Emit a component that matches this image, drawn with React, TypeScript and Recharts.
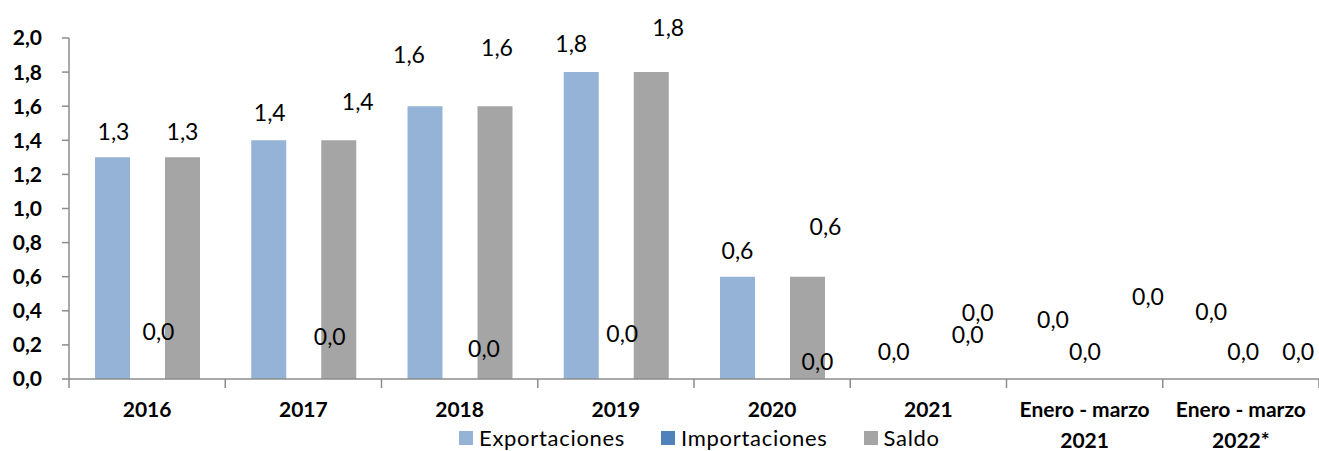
import React from 'react'
import { BarChart, Bar, XAxis, YAxis, LabelList } from 'recharts'

const categories = ['2016', '2017', '2018', '2019', '2020', '2021', 'Enero - marzo\n2021', 'Enero - marzo\n2022*']
const exportaciones = [1.3, 1.4, 1.6, 1.8, 0.6, 0.0, 0.0, 0.0]
const importaciones = [0.0, 0.0, 0.0, 0.0, 0.0, 0.0, 0.0, 0.0]
const saldo = [1.3, 1.4, 1.6, 1.8, 0.6, 0.0, 0.0, 0.0]
const yTicks = [0, 0.2, 0.4, 0.6, 0.8, 1.0, 1.2, 1.4, 1.6, 1.8, 2.0]

// data labels were moved by hand in the original, so keep the nudges (dx, dy from bar top)
const exportNudge = [[1, -25], [1, -27], [-16, -51], [-10, -28], [0, -26], [0, -27], [3, -59], [5, -67]]
const importNudge = [[11, -47], [26, -42], [24, -30], [6, -45], [45, -17], [39, -44], [0, -27], [2, -27]]
const saldoNudge = [[0, -25], [19, -38], [2, -58], [17, -44], [18, -50], [14, -66], [28, -82], [22, -27]]

const series = [
  { key: 'exportaciones', name: 'Exportaciones', color: '#95B3D7', nudge: exportNudge },
  { key: 'importaciones', name: 'Importaciones', color: '#4F81BD', nudge: importNudge },
  { key: 'saldo', name: 'Saldo', color: '#A5A5A5', nudge: saldoNudge }
]

const data = categories.map((name, i) => ({
  name,
  exportaciones: exportaciones[i],
  importaciones: importaciones[i],
  saldo: saldo[i]
}))

const WIDTH = 1319
const HEIGHT = 451
const Y_AXIS_W = 69
const BAND = (WIDTH - Y_AXIS_W) / categories.length
const FONT = 'Lato, "Open Sans", sans-serif'
const AXIS_COLOR = '#8c8c8c'

const fmt = (v: number) => v.toFixed(1).replace('.', ',')

const XTick = ({ x, y, payload, index }: any) => {
  const lines = String(payload.value).split('\n')
  const half = BAND / 2
  return (
    <g>
      <line x1={x - half} x2={x - half} y1={y} y2={y + 9} stroke={AXIS_COLOR} strokeWidth={1.5} />
      {index === categories.length - 1 && (
        <line x1={x + half} x2={x + half} y1={y} y2={y + 9} stroke={AXIS_COLOR} strokeWidth={1.5} />
      )}
      <text x={x} y={y + 38} textAnchor="middle" fontFamily={FONT} fontSize={21} fontWeight="bold" fill="#000">
        {lines.map((l, i) => (
          <tspan key={i} x={x} dy={i === 0 ? 0 : 31}>{l}</tspan>
        ))}
      </text>
    </g>
  )
}

const makeLabel = (nudge: number[][]) => (props: any) => {
  const { x, y, width, value, index } = props
  const [dx, dy] = nudge[index] || [0, -20]
  return (
    <text
      x={Number(x) + Number(width) / 2 + dx}
      y={Number(y) + dy + 8}
      textAnchor="middle"
      fontFamily={FONT}
      fontSize={23}
      fill="#000"
    >
      {fmt(Number(value))}
    </text>
  )
}

export default function App() {
  return (
    <div style={{ position: 'absolute', left: 0, top: 0, width: WIDTH, height: HEIGHT, background: '#fff', overflow: 'hidden' }}>
      <BarChart
        width={WIDTH}
        height={HEIGHT}
        data={data}
        margin={{ top: 38, right: 0, bottom: 0, left: 0 }}
        barCategoryGap={26}
        barGap={0}
      >
        <XAxis
          dataKey="name"
          height={72}
          interval={0}
          tickSize={0}
          tickMargin={0}
          tickLine={false}
          axisLine={{ stroke: AXIS_COLOR, strokeWidth: 1.5 }}
          tick={<XTick />}
        />
        <YAxis
          width={Y_AXIS_W}
          domain={[0, 2]}
          ticks={yTicks}
          interval={0}
          tickFormatter={fmt}
          tickSize={7}
          tickMargin={20}
          axisLine={{ stroke: AXIS_COLOR, strokeWidth: 1.5 }}
          tickLine={{ stroke: AXIS_COLOR, strokeWidth: 1.5 }}
          tick={{ fontFamily: FONT, fontSize: 21, fontWeight: 'bold', fill: '#000' }}
        />
        {series.map(s => (
          <Bar
            key={s.key}
            dataKey={s.key}
            name={s.name}
            fill={s.color}
            minPointSize={0.01}
            isAnimationActive={false}
          >
            <LabelList dataKey={s.key} content={makeLabel(s.nudge)} />
          </Bar>
        ))}
      </BarChart>
      <div
        style={{
          position: 'absolute',
          left: 459,
          top: 424,
          display: 'flex',
          alignItems: 'center',
          fontFamily: FONT,
          fontSize: 22,
          letterSpacing: 0.7,
          color: '#000',
          lineHeight: 'normal',
          whiteSpace: 'nowrap'
        }}
      >
        {series.map(s => (
          <div key={s.key} style={{ display: 'flex', alignItems: 'center', marginRight: 36 }}>
            <span style={{ width: 14, height: 14, background: s.color, marginRight: 6, display: 'inline-block' }} />
            <span>{s.name}</span>
          </div>
        ))}
      </div>
    </div>
  )
}
